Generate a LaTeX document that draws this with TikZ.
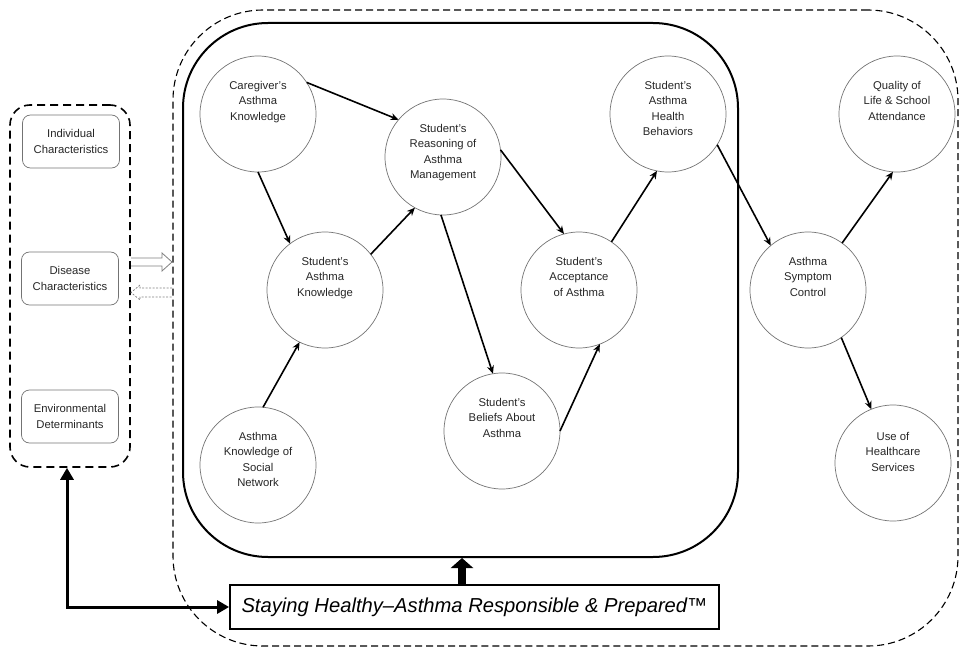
\documentclass[tikz,border=0pt]{standalone}
\usepackage{fontspec}
\setmainfont{Liberation Sans}
\usetikzlibrary{arrows.meta}
\begin{document}
\begin{tikzpicture}[x={(1pt,0)},y={(0,-1pt)},
  circ/.style={circle,draw=black!55,line width=0.7pt,minimum size=116pt,inner sep=0pt,outer sep=0pt},
  ctext/.style={anchor=north,align=center,font=\fontsize{11.3}{15.5}\selectfont,text=black!85,inner sep=0pt},
  sbox/.style={draw=black!55,line width=0.7pt,rounded corners=8pt,minimum width=97pt,minimum height=53pt,align=center,font=\fontsize{11.3}{15.5}\selectfont,text=black!85,inner sep=0pt},
  conn/.style={line width=1.6pt,-{Stealth[length=8pt,width=7pt]}},
  bigconn/.style={line width=3pt,{Triangle[length=12pt,width=13pt]}-{Triangle[length=12pt,width=13pt]}},
]
\useasboundingbox (0,0) rectangle (961,650);

% frames
\node[draw,line width=1.1pt,dash pattern=on 7pt off 4pt,rounded corners=90pt,minimum width=785pt,minimum height=636pt,inner sep=0pt] (outer) at (565.5,328) {};
\node[draw,line width=2pt,rounded corners=85pt,minimum width=555pt,minimum height=534pt,inner sep=0pt] (inner) at (460.5,290) {};
\node[draw,line width=1.6pt,dash pattern=on 8pt off 5pt,rounded corners=20pt,minimum width=120pt,minimum height=362pt,inner sep=0pt] (lbox) at (70,286) {};

% left boxes
\node[sbox] (indiv) at (71,141.5) {Individual\\Characteristics};
\node[sbox] (disease) at (70,278.5) {Disease\\Characteristics};
\node[sbox] (env) at (70,416.5) {Environmental\\Determinants};

% circles
\node[circ] (c1) at (258,114) {};
\node[circ] (c2) at (443,157) {};
\node[circ] (c3) at (325,290) {};
\node[circ] (c4) at (258,465) {};
\node[circ] (c5) at (502,431) {};
\node[circ] (c6) at (579,290) {};
\node[circ] (c7) at (668,114) {};
\node[circ] (c8) at (808,290) {};
\node[circ] (c9) at (897,114) {};
\node[circ] (c10) at (893,463) {};

\node[ctext] (t1) at ([yshift=33pt]c1.center) {Caregiver’s\\Asthma\\Knowledge};
\node[ctext] (t2) at ([yshift=33pt]c2.center) {Student’s\\Reasoning of\\Asthma\\Management};
\node[ctext] (t3) at ([yshift=33pt]c3.center) {Student’s\\Asthma\\Knowledge};
\node[ctext] (t4) at ([yshift=33pt]c4.center) {Asthma\\Knowledge of\\Social\\Network};
\node[ctext] (t5) at ([yshift=33pt]c5.center) {Student’s\\Beliefs About\\Asthma};
\node[ctext] (t6) at ([yshift=33pt]c6.center) {Student’s\\Acceptance\\of Asthma};
\node[ctext] (t7) at ([yshift=33pt]c7.center) {Student’s\\Asthma\\Health\\Behaviors};
\node[ctext] (t8) at ([yshift=33pt]c8.center) {Asthma\\Symptom\\Control};
\node[ctext] (t9) at ([yshift=33pt]c9.center) {Quality of\\Life \& School\\Attendance};
\node[ctext] (t10) at ([yshift=31pt]c10.center) {Use of\\Healthcare\\Services};

% connectors
\draw[conn] (c1.33) -- (c2.140);
\draw[conn] (c1.270) -- (c3.127);
\draw[conn] (c3.38) -- (c2.241);
\draw[conn] (c4.85) -- (c3.244);
\draw[conn] (c2.268) -- (c5.99);
\draw[conn] (c2.7) -- (c6.105);
\draw[conn] (c5.0) -- (c6.291);
\draw[conn] (c6.56) -- (c7.259);
\draw[conn] (c7.328) -- (c8.130);
\draw[conn] (c8.54) -- (c9.266);
\draw[conn] (c8.305) -- (c10.112);

% SHARP box
\node[draw,line width=1.8pt,minimum width=489pt,minimum height=44pt,inner sep=0pt,font=\fontsize{20.2}{21}\selectfont\itshape] (sharp) at (474.5,607) {Staying Healthy–Asthma Responsible \& Prepared™};
\draw[bigconn] ([xshift=-3pt]lbox.south) |- (sharp.west);
\draw[line width=8pt,-{Triangle[length=10pt,width=22pt]}] (sharp.north -| 462,0) -- (inner.south -| 462,0);

% hollow arrows between panel and frame
\draw[black!50,line width=0.8pt,line join=miter] (131,258) -- (162,258) -- (162,253) -- (172,262) -- (162,271) -- (162,266) -- (131,266);
\draw[black!50,line width=0.7pt,dash pattern=on 2pt off 1.5pt] (172,288) -- (140,288) -- (140,285) -- (131,292.5) -- (140,300) -- (140,297) -- (172,297);
\end{tikzpicture}
\end{document}
